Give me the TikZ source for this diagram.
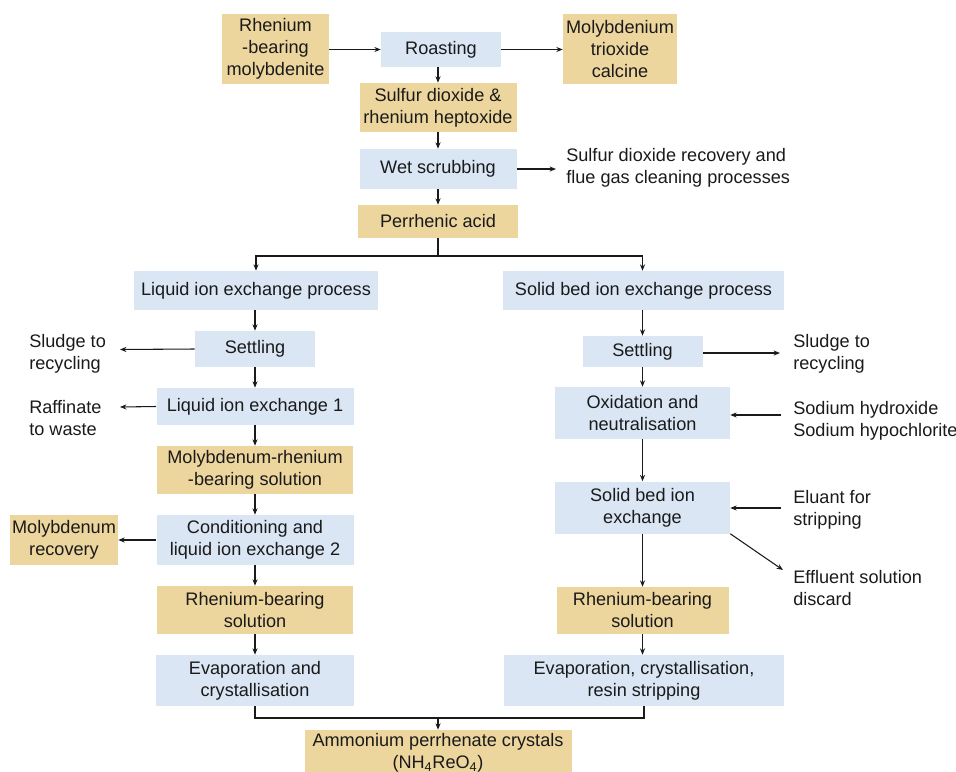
\documentclass[tikz,border=0pt]{standalone}
\usepackage{fontspec}
\setmainfont{Liberation Sans}
\usetikzlibrary{arrows.meta}
\definecolor{bluebox}{HTML}{DAE6F4}
\definecolor{tanbox}{HTML}{EDD69E}
\definecolor{ink}{HTML}{1A1A1A}
\begin{document}
\begin{tikzpicture}[x=0.75pt,y=-0.75pt,
  every node/.style={font=\fontsize{13.6}{16.5}\selectfont, align=center, inner sep=0pt, text=ink},
  procb/.style 2 args={fill=bluebox, minimum width=#1*0.75pt, minimum height=#2*0.75pt},
  prodb/.style 2 args={fill=tanbox, minimum width=#1*0.75pt, minimum height=#2*0.75pt},
  lbl/.style={align=left, anchor=west},
  arr/.style={draw=ink, line width=0.8pt, -{Stealth[length=4.8pt,width=3.8pt]}},
  ln/.style={draw=ink, line width=0.8pt}]
\useasboundingbox (0,0) rectangle (956,771);
\clip (0,0) rectangle (956,771);

% top chain
\node[prodb={107}{70}] (rbm) at (275.5,49) {Rhenium\\-bearing\\molybdenite};
\node[procb={120}{35}] (roast) at (441,49.5) {Roasting};
\node[prodb={114}{70}] (mtc) at (620,49) {Molybdenium\\trioxide\\calcine};
\node[prodb={157}{49}] (sdrh) at (438,107.5) {Sulfur dioxide \&\\rhenium heptoxide};
\node[procb={157}{40}] (wet) at (438,169) {Wet scrubbing};
\node[lbl] (sdr) at (566,168) {Sulfur dioxide recovery and\\flue gas cleaning processes};
\node[prodb={160}{33}] (pa) at (438,221.5) {Perrhenic acid};

% branches
\node[procb={244}{39}] (liep) at (256,290.5) {Liquid ion exchange process};
\node[procb={281}{39}] (sbiep) at (643.5,290.5) {Solid bed ion exchange process};

% left column
\node[procb={120}{36}] (lset) at (255,349) {Settling};
\node[lbl] (lt1) at (29,353.5) {Sludge to\\recycling};
\node[procb={197}{37}] (lie1) at (255,406.5) {Liquid ion exchange 1};
\node[lbl] (lt2) at (29,418) {Raffinate\\to waste};
\node[prodb={196}{48}] (mrbs) at (255,470) {Molybdenum-rhenium\\-bearing solution};
\node[procb={197}{50}] (cond) at (255,540) {Conditioning and\\liquid ion exchange 2};
\node[prodb={108}{50}] (molrec) at (64,540) {Molybdenum\\recovery};
\node[prodb={196}{48}] (lrbs) at (255,610) {Rhenium-bearing\\solution};
\node[procb={198}{51}] (levap) at (255,680.5) {Evaporation and\\crystallisation};

% right column
\node[procb={120}{31}] (rset) at (642.5,351.5) {Settling};
\node[lbl] (rt1) at (793,353.5) {Sludge to\\recycling};
\node[procb={175}{52}] (oxn) at (642.5,413) {Oxidation and\\neutralisation};
\node[lbl] (rt2) at (793,420.5) {Sodium hydroxide\\Sodium hypochlorite};
\node[procb={175}{52}] (sbie) at (642.5,507.5) {Solid bed ion\\exchange};
\node[lbl] (rt3) at (793,509.5) {Eluant for\\stripping};
\node[lbl] (rt4) at (793,588) {Effluent solution\\discard};
\node[prodb={172}{47}] (rrbs) at (642.5,610.5) {Rhenium-bearing\\solution};
\node[procb={280}{51}] (revap) at (644,680.5) {Evaporation, crystallisation,\\resin stripping};

% final product
\node[prodb={267}{46}] (apc) at (438,753) {Ammonium perrhenate crystals\\(NH\textsubscript{4}ReO\textsubscript{4})};

% free-end coordinates
\coordinate (split) at (438,256);
\coordinate (merge) at (438,718);
\coordinate (sdrend) at (556,169);
\coordinate (l1end) at (120,349.5);
\coordinate (l2end) at (120,407);
\coordinate (r1end) at (780,353);
\coordinate (r2start) at (781,415);
\coordinate (r3start) at (781,508);
\coordinate (r4end) at (783,570);

% connectors - top
\draw[arr] (rbm.east |- roast) -- (roast.west);
\draw[arr] (roast.east) -- (mtc.west |- roast);
\draw[arr] (sdrh.north |- roast.south) -- (sdrh.north);
\draw[arr] (sdrh.south) -- (wet.north);
\draw[arr] (wet.east) -- (sdrend);
\draw[arr] (wet.south) -- (pa.north);
\draw[ln] (pa.south) -- (split);
\draw[arr] (split) -| (liep.north);
\draw[arr] (split) -| (sbiep.north -| rset);

% left column
\draw[arr] (liep.south -| lset) -- (lset.north);
\draw[arr] (lset.west) -- (l1end);
\draw[arr] (lset.south) -- (lie1.north);
\draw[arr] (lie1.west) -- (l2end);
\draw[arr] (lie1.south) -- (mrbs.north);
\draw[arr] (mrbs.south) -- (cond.north);
\draw[arr] (cond.west) -- (molrec.east);
\draw[arr] (cond.south) -- (lrbs.north);
\draw[arr] (lrbs.south) -- (levap.north);

% right column
\draw[arr] (sbiep.south -| rset) -- (rset.north);
\draw[arr] (rset.east |- r1end) -- (r1end);
\draw[arr] (rset.south) -- (oxn.north);
\draw[arr] (r2start) -- (oxn.east |- r2start);
\draw[arr] (oxn.south) -- (sbie.north);
\draw[arr] (r3start) -- (sbie.east |- r3start);
\draw[arr] (sbie.south east) -- (r4end);
\draw[arr] (sbie.south) -- (rrbs.north);
\draw[arr] (rrbs.south) -- (rrbs.south |- revap.north);

% merge
\draw[ln] (levap.south) |- (merge);
\draw[ln] (revap.south) |- (merge);
\draw[arr] (merge) -- (apc.north);
\end{tikzpicture}
\end{document}
